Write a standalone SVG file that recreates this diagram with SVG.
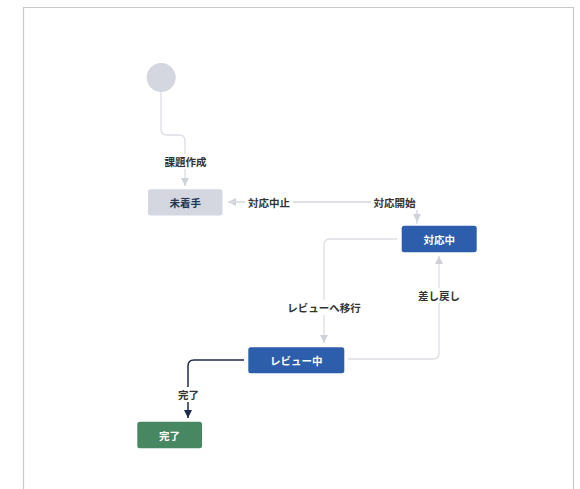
<svg xmlns="http://www.w3.org/2000/svg" width="580" height="489" viewBox="0 0 580 489">
<defs>
<style>
.conn{fill:none;stroke:#dcdee4;stroke-width:1.3}
.dark{fill:none;stroke:#1e2b4a;stroke-width:1.5}
.lbl{font-family:"Noto Sans CJK JP","Noto Sans",sans-serif;font-size:10.5px;font-weight:bold;fill:#333;text-anchor:middle;dominant-baseline:central}
.lblbg{fill:#fff}
.nt{font-family:"Noto Sans CJK JP","Noto Sans",sans-serif;font-size:10.5px;font-weight:bold;text-anchor:middle;dominant-baseline:central}
</style>
<marker id="ag" viewBox="0 0 10 10" refX="10" refY="5" markerWidth="8" markerHeight="8" markerUnits="userSpaceOnUse" orient="auto"><path d="M0,0 L10,5 L0,10 Z" fill="#cfd2d9"/></marker>
<marker id="ad" viewBox="0 0 10 10" refX="10" refY="5" markerWidth="8.5" markerHeight="8.5" markerUnits="userSpaceOnUse" orient="auto"><path d="M0,0 L10,5 L0,10 Z" fill="#1e2b4a"/></marker>
</defs>
<rect x="0" y="0" width="580" height="489" fill="#fff"/>
<path d="M23.5,495 V7.5 H573.5 V495" fill="none" stroke="#c8c8c8" stroke-width="1.2"/>
<g id="connectors">
<path class="conn" d="M161,92 V129 Q161,135 167,135 H179 Q185,135 185,141 V186" marker-end="url(#ag)"/>
<path class="conn" d="M417,224 V208 Q417,202 411,202 H228" marker-end="url(#ag)"/>
<path class="conn" d="M228,202 H411 Q417,202 417,208 V222" marker-end="url(#ag)"/>
<path class="conn" d="M397,239 H330 Q324,239 324,245 V343" marker-end="url(#ag)"/>
<path class="conn" d="M348,359 H433 Q439,359 439,353 V256" marker-end="url(#ag)"/>
<path class="dark" d="M244,360 H194 Q188,360 188,366 V418" marker-end="url(#ad)"/>
<rect class="lblbg" x="163" y="154" width="45" height="15"/>
<text class="lbl" x="185.5" y="161.5">課題作成</text>
<rect class="lblbg" x="245" y="195" width="48" height="15"/>
<text class="lbl" x="269" y="202">対応中止</text>
<rect class="lblbg" x="371" y="195" width="48" height="15"/>
<text class="lbl" x="394.5" y="202">対応開始</text>
<rect class="lblbg" x="286" y="300" width="76" height="15"/>
<text class="lbl" x="324" y="307.5">レビューへ移行</text>
<rect class="lblbg" x="415" y="288" width="48" height="15"/>
<text class="lbl" x="439" y="295">差し戻し</text>
<rect class="lblbg" x="175" y="387" width="27" height="15"/>
<text class="lbl" x="188.5" y="394">完了</text>
</g>
<g id="start"><circle cx="161.2" cy="77.5" r="14.5" fill="#d4d7df"/></g>
<g id="n-mityakushu"><rect x="148" y="189.3" width="74.5" height="26.3" rx="2.5" fill="#d4d7df"/><text class="nt" x="185.2" y="202.5" fill="#263657">未着手</text></g>
<g id="n-taiouchu"><rect x="401.7" y="225.7" width="75" height="26.6" rx="2.5" fill="#2c5eab"/><text class="nt" x="439.2" y="239" fill="#fff">対応中</text></g>
<g id="n-review"><rect x="248.3" y="347.3" width="96" height="26" rx="2.5" fill="#2c5eab"/><text class="nt" x="296.3" y="360.3" fill="#fff">レビュー中</text></g>
<g id="n-kanryo"><rect x="137.3" y="421.7" width="64.7" height="26.6" rx="2.5" fill="#478762"/><text class="nt" x="169.6" y="435" fill="#fff">完了</text></g>
</svg>
